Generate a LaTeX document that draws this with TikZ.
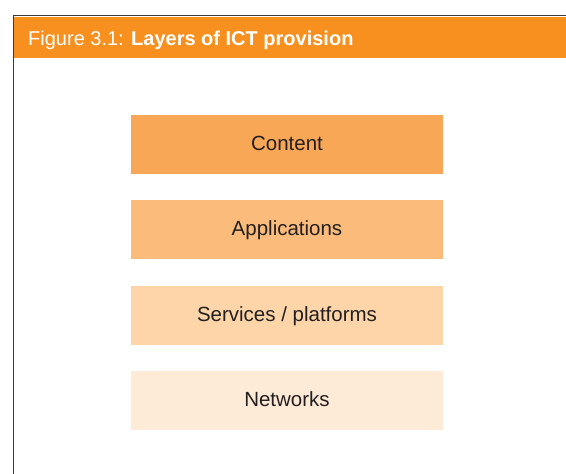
\documentclass[tikz,border=0pt]{standalone}
\usepackage{fontspec}
\setmainfont{Liberation Sans}
\definecolor{hdr}{HTML}{F7901E}
\definecolor{c1}{HTML}{F8A757}
\definecolor{c2}{HTML}{FBBC7B}
\definecolor{c3}{HTML}{FDD5A8}
\definecolor{c4}{HTML}{FDEAD7}
\definecolor{txt}{HTML}{231F20}
\definecolor{frame}{HTML}{3A3A3A}
\tikzset{
  layer/.style={minimum width=312pt, minimum height=59pt, inner sep=0pt, text=txt,
    text height=15pt, text depth=3pt,
    font=\fontsize{20.5}{23}\selectfont, draw=none}
}
\begin{document}
\begin{tikzpicture}[x=1pt,y=-1pt]
\useasboundingbox (0,0) rectangle (566,474);
\fill[hdr] (13,16.5) rectangle (566,58.3);
\draw[frame, line width=1.2pt] (13.6,474) -- (13.6,15.8) -- (566,15.8);
\node[anchor=base west, text=white, inner sep=0pt, font=\fontsize{20}{22}\selectfont] (title) at (28,45) {Figure 3.1: \textbf{Layers of ICT provision}};
\node[layer, fill=c1] (content) at (287,144.5) {Content};
\node[layer, fill=c2] (apps) at (287,229.5) {Applications};
\node[layer, fill=c3] (serv) at (287,315.5) {Services / platforms};
\node[layer, fill=c4] (net) at (287,400.5) {Networks};
\end{tikzpicture}
\end{document}
